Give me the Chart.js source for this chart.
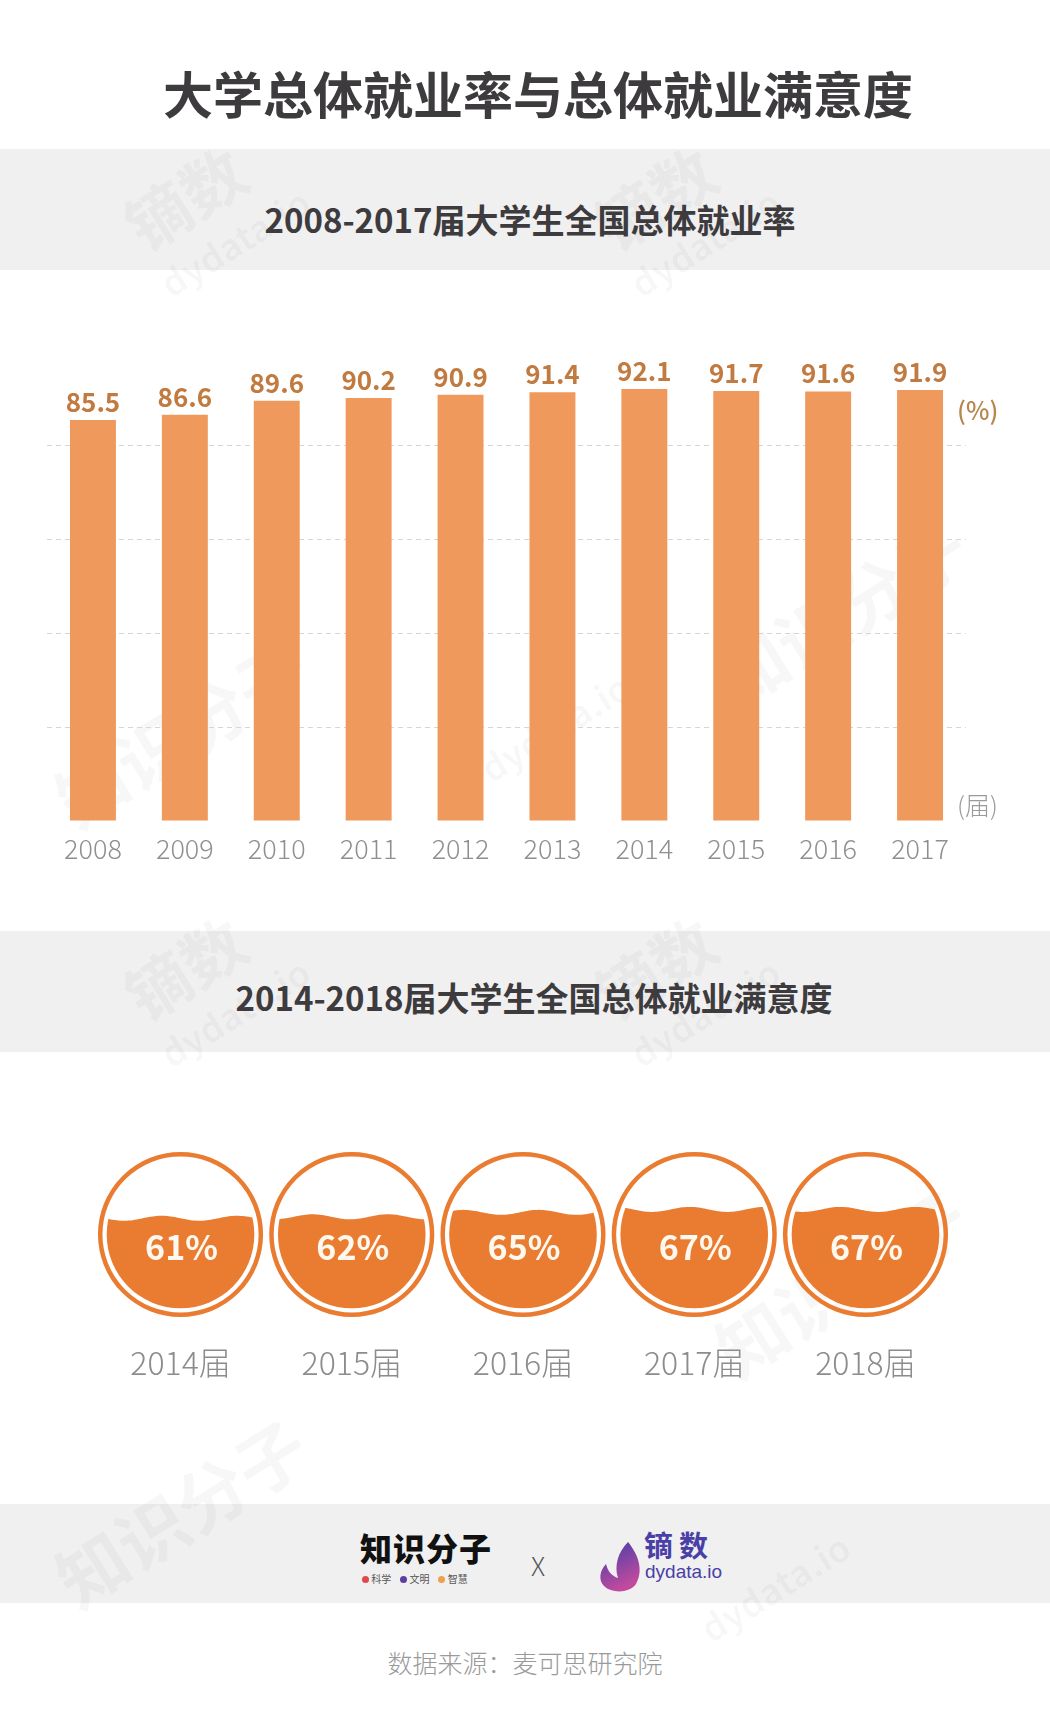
<!DOCTYPE html>
<html>
<head>
<meta charset="utf-8">
<script src="https://cdn.jsdelivr.net/npm/chart.js@4.4.1/dist/chart.umd.min.js"></script>
<style>
  html, body { margin: 0; padding: 0; background: #fff; }
  body { width: 1050px; height: 1732px; position: relative; overflow: hidden; font-family: "Noto Sans CJK SC", "Noto Sans", sans-serif; }
  .abs { position: absolute; }
  .band { position: absolute; left: 0; width: 1050px; background: #f0f0f0; }
  .mark { position: absolute; color: rgba(0,0,0,0.03); font-weight: bold; transform: rotate(-32deg); white-space: nowrap; }
  .head { position: absolute; left: 0; width: 1050px; text-align: center; color: #3d3b3e; font-weight: bold; white-space: nowrap; }
</style>
</head>
<body>
<div class="band" style="top:149px;height:121px"></div>
<div class="band" style="top:931px;height:121px"></div>
<div class="band" style="top:1504px;height:99px"></div>

<!-- faint watermarks -->
<div class="mark" style="left:120px;top:150px;font-size:64px">镝数</div>
<div class="mark" style="left:150px;top:215px;font-size:36px">dydata.io</div>
<div class="mark" style="left:590px;top:150px;font-size:64px">镝数</div>
<div class="mark" style="left:620px;top:215px;font-size:36px">dydata.io</div>
<div class="mark" style="left:120px;top:920px;font-size:64px">镝数</div>
<div class="mark" style="left:150px;top:985px;font-size:36px">dydata.io</div>
<div class="mark" style="left:590px;top:920px;font-size:64px">镝数</div>
<div class="mark" style="left:620px;top:985px;font-size:36px">dydata.io</div>
<div class="mark" style="left:470px;top:700px;font-size:36px">dydata.io</div>
<div class="mark" style="left:700px;top:560px;font-size:70px">知识分子</div>
<div class="mark" style="left:40px;top:680px;font-size:70px">知识分子</div>
<div class="mark" style="left:700px;top:1230px;font-size:70px">知识分子</div>
<div class="mark" style="left:40px;top:1460px;font-size:70px">知识分子</div>
<div class="mark" style="left:690px;top:1560px;font-size:36px">dydata.io</div>

<div class="head" style="top:65px;font-size:50px;line-height:54px;padding-left:26px;box-sizing:border-box">大学总体就业率与总体就业满意度</div>
<div class="head" style="top:201px;font-size:33px;line-height:36px;padding-left:10px;box-sizing:border-box">2008-2017届大学生全国总体就业率</div>
<div class="head" style="top:979px;font-size:33px;line-height:36px;padding-left:18px;box-sizing:border-box">2014-2018届大学生全国总体就业满意度</div>

<div class="abs" style="left:0;top:300px;width:1050px;height:580px"><canvas id="rateChart" width="1050" height="580"></canvas></div>
<div class="abs" style="left:0;top:1100px;width:1050px;height:320px"><canvas id="satisfactionChart" width="1050" height="320"></canvas></div>

<!-- footer logos -->
<div class="abs" style="left:360px;top:1529px;font-size:32px;font-weight:900;color:#111;letter-spacing:1px;line-height:36px">知识分子</div>
<div class="abs" style="left:362px;top:1572px;font-size:10px;color:#555;line-height:14px;white-space:nowrap">
  <span style="display:inline-block;width:7px;height:7px;border-radius:50%;background:#e0474f"></span> 科学
  &nbsp;&nbsp;&nbsp;<span style="display:inline-block;width:7px;height:7px;border-radius:50%;background:#5b3fa3"></span> 文明
  &nbsp;&nbsp;&nbsp;<span style="display:inline-block;width:7px;height:7px;border-radius:50%;background:#f0a04a"></span> 智慧
</div>
<div class="abs" style="left:531px;top:1550px;font-size:26px;font-weight:300;color:#555;line-height:30px">X</div>
<svg class="abs" style="left:598px;top:1540px" width="46" height="54" viewBox="0 0 46 54">
  <defs>
    <linearGradient id="dropGrad" x1="0" y1="0" x2="0.4" y2="1">
      <stop offset="0" stop-color="#3f3fa8"/>
      <stop offset="1" stop-color="#c24a9e"/>
    </linearGradient>
  </defs>
  <path d="M30 2 C 40 14, 46 30, 38 44 C 32 53, 14 54, 6 46 C 0 40, 2 30, 8 24 C 10 32, 14 36, 20 38 C 16 26, 20 12, 30 2 Z" fill="url(#dropGrad)"/>
</svg>
<div class="abs" style="left:644px;top:1527px;font-size:29px;font-weight:bold;color:#4a3fa6;letter-spacing:6px;line-height:34px">镝数</div>
<div class="abs" style="left:645px;top:1561px;font-size:19px;color:#4a3fa6;line-height:22px;font-family:'Liberation Sans',sans-serif">dydata.io</div>

<div class="head" style="top:1648px;font-size:25px;line-height:28px;font-weight:300;color:#9a9a9a">数据来源：麦可思研究院</div>

<script>
const FONT = '"Noto Sans CJK SC", "Noto Sans", sans-serif';

// 2008-2017 overall employment rate (%)
const rateYears = ['2008', '2009', '2010', '2011', '2012', '2013', '2014', '2015', '2016', '2017'];
const rateValues = [85.5, 86.6, 89.6, 90.2, 90.9, 91.4, 92.1, 91.7, 91.6, 91.9];
const rateGridTicks = [20, 40, 60, 80];

// 2014-2018 overall job satisfaction (%)
const satisfactionYears = ['2014届', '2015届', '2016届', '2017届', '2018届'];
const satisfactionValues = [61, 62, 65, 67, 67];

// value labels on top of bars plus unit notes
const barLabels = {
  id: 'barLabels',
  afterDatasetsDraw(chart) {
    const ctx = chart.ctx;
    const area = chart.chartArea;
    const meta = chart.getDatasetMeta(0);
    ctx.save();
    ctx.font = 'bold 26px ' + FONT;
    ctx.fillStyle = '#c17a3f';
    ctx.textAlign = 'center';
    ctx.textBaseline = 'alphabetic';
    meta.data.forEach((bar, i) => {
      ctx.fillText(rateValues[i].toFixed(1), bar.x, bar.y - 8);
    });
    ctx.textAlign = 'left';
    ctx.textBaseline = 'middle';
    ctx.font = '500 25px ' + FONT;
    ctx.fillStyle = '#b8874f';
    ctx.fillText('(%)', area.right - 9, area.top + 58);
    ctx.font = '300 25px ' + FONT;
    ctx.fillStyle = '#9a9a9a';
    ctx.fillText('(届)', area.right - 9, area.bottom - 16);
    ctx.restore();
  }
};

const ctx1 = document.getElementById('rateChart').getContext('2d');
const rateChart = new Chart(ctx1, {
  type: 'bar',
  data: {
    labels: rateYears,
    datasets: [{
      data: rateValues,
      backgroundColor: '#ef9a5c',
      barPercentage: 0.5,
      categoryPercentage: 1.0
    }]
  },
  options: {
    responsive: false,
    animation: false,
    events: [],
    layout: { padding: { top: 52, right: 84, left: 0, bottom: 0 } },
    plugins: { legend: { display: false }, tooltip: { enabled: false } },
    scales: {
      x: {
        afterFit: s => { s.height = 59; },
        grid: { display: false, drawTicks: false },
        border: { display: false },
        ticks: {
          padding: 12,
          color: '#8f8f8f',
          font: { family: FONT, size: 27, weight: 300 }
        }
      },
      y: {
        min: 0,
        max: 100,
        afterFit: s => { s.width = 47; },
        afterBuildTicks: s => { s.ticks = [0].concat(rateGridTicks, [100]).map(v => ({ value: v })); },
        border: { display: false, dash: [5, 4] },
        grid: {
          drawTicks: false,
          lineWidth: 1,
          color: c => rateGridTicks.includes(c.tick.value) ? '#d6d6d6' : 'rgba(0,0,0,0)'
        },
        ticks: { display: false }
      }
    }
  },
  plugins: [barLabels]
});

// liquid-filled circles: y scale 0..100 spans the inner circle
const liquidCircles = {
  id: 'liquidCircles',
  afterDatasetsDraw(chart) {
    const ctx = chart.ctx;
    const ys = chart.scales.y;
    const top = ys.getPixelForValue(100);
    const bottom = ys.getPixelForValue(0);
    const r = (bottom - top) / 2;
    const cy = ys.getPixelForValue(50);
    chart.getDatasetMeta(0).data.forEach((pt, i) => {
      const cx = pt.x;
      const level = pt.y;
      ctx.save();
      ctx.beginPath();
      ctx.arc(cx, cy, r + 6.5, 0, Math.PI * 2);
      ctx.lineWidth = 4.5;
      ctx.strokeStyle = '#e97c31';
      ctx.stroke();

      ctx.beginPath();
      ctx.arc(cx, cy, r, 0, Math.PI * 2);
      ctx.clip();
      ctx.beginPath();
      ctx.moveTo(cx - r - 2, bottom + 2);
      for (let x = cx - r - 2; x <= cx + r + 2; x += 2) {
        ctx.lineTo(x, level + 2.5 * Math.sin((x - cx) / 12 + i * 1.7));
      }
      ctx.lineTo(cx + r + 2, bottom + 2);
      ctx.closePath();
      ctx.fillStyle = '#e97c31';
      ctx.fill();
      ctx.restore();

      ctx.save();
      ctx.font = 'bold 34px ' + FONT;
      ctx.fillStyle = '#fff8ef';
      ctx.textAlign = 'center';
      ctx.textBaseline = 'middle';
      ctx.fillText(satisfactionValues[i] + '%', cx + 1, cy + 13);
      ctx.restore();
    });
  }
};

const ctx2 = document.getElementById('satisfactionChart').getContext('2d');
const satisfactionChart = new Chart(ctx2, {
  type: 'line',
  data: {
    labels: satisfactionYears,
    datasets: [{
      data: satisfactionValues,
      showLine: false,
      pointRadius: 0
    }]
  },
  options: {
    responsive: false,
    animation: false,
    events: [],
    layout: { padding: { top: 60.7, right: 98.9, left: 0, bottom: 0 } },
    plugins: { legend: { display: false }, tooltip: { enabled: false } },
    scales: {
      x: {
        offset: true,
        afterFit: s => { s.height = 111.7; },
        grid: { display: false, drawTicks: false },
        border: { display: false },
        ticks: {
          padding: 35,
          color: '#8c8c8c',
          font: { family: FONT, size: 32, weight: 300 }
        }
      },
      y: {
        min: 0,
        max: 100,
        afterFit: s => { s.width = 94.9; },
        grid: { display: false, drawTicks: false },
        border: { display: false },
        ticks: { display: false }
      }
    }
  },
  plugins: [liquidCircles]
});
</script>
</body>
</html>
